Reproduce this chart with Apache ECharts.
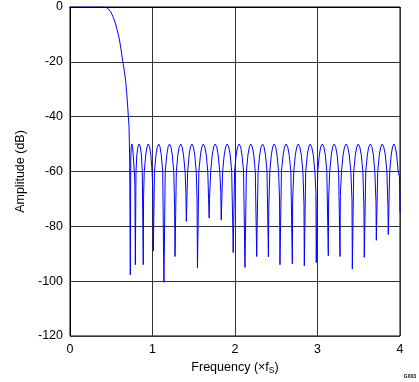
<!DOCTYPE html>
<html>
<head>
<meta charset="utf-8">
<script src="https://cdn.jsdelivr.net/npm/echarts@6/dist/echarts.min.js"></script>
<style>
html,body{margin:0;padding:0;background:#fff;}
#chart{width:419px;height:382px;}
</style>
</head>
<body>
<div id="chart"></div>
<script>
// x ticks (frequency, x fS) and y ticks (dB)
const xTickLabels = [0, 1, 2, 3, 4];
const yTickLabels = [0, -20, -40, -60, -80, -100, -120];

// Passband and roll-off: [frequency, amplitude dB]
const passband = [
  [0, 0], [0.1, 0], [0.2, 0], [0.3, 0], [0.4, 0], [0.424, 0], [0.45, -0.3],
  [0.465, -0.7], [0.493, -1.7], [0.525, -3.8], [0.553, -6.2], [0.574, -8.7],
  [0.598, -11.7], [0.618, -15.4], [0.638, -19.6], [0.658, -23.3], [0.675, -27],
  [0.687, -31.2], [0.699, -36.1], [0.707, -39.8], [0.715, -43.4], [0.72, -50],
  [0.724, -57]
];

// Stopband ripples with nulls: [frequency, amplitude dB]
const stopband = [
  [0.731, -97.7],
  [0.736, -56], [0.742, -51], [0.750, -50], [0.758, -51], [0.766, -54], [0.775, -58], [0.783, -62],
  [0.787, -66], [0.792, -94],
  [0.800, -60], [0.810, -54], [0.823, -51], [0.838, -50], [0.853, -51], [0.865, -54], [0.876, -60],
  [0.888, -94], [0.892, -68.8],
  [0.900, -60], [0.918, -54], [0.933, -51], [0.949, -50], [0.965, -51], [0.980, -54], [0.995, -60],
  [1.005, -67], [1.010, -89],
  [1.024, -60], [1.042, -54], [1.058, -51], [1.075, -50], [1.091, -51], [1.107, -54], [1.124, -60],
  [1.133, -86.7], [1.139, -100.4],
  [1.154, -60], [1.173, -54], [1.189, -51], [1.206, -50], [1.223, -51], [1.240, -54], [1.258, -60],
  [1.268, -73], [1.273, -91],
  [1.289, -60], [1.307, -54], [1.324, -51], [1.342, -50], [1.359, -51], [1.376, -54], [1.395, -60],
  [1.405, -68], [1.410, -78.2],
  [1.426, -60], [1.444, -54], [1.460, -51], [1.478, -50], [1.495, -51], [1.512, -54], [1.530, -60],
  [1.540, -70], [1.545, -95.2],
  [1.562, -60], [1.581, -54], [1.598, -51], [1.616, -50], [1.634, -51], [1.652, -54], [1.670, -60],
  [1.687, -77], [1.691, -70.2],
  [1.705, -60], [1.724, -54], [1.741, -51], [1.760, -50], [1.779, -51], [1.796, -54], [1.815, -60],
  [1.828, -67.7], [1.833, -77.6],
  [1.850, -60], [1.869, -54], [1.887, -51], [1.905, -50], [1.923, -51], [1.942, -54], [1.960, -60],
  [1.973, -80], [1.978, -89.6],
  [1.995, -60], [2.014, -54], [2.031, -51], [2.050, -50], [2.068, -51], [2.085, -54], [2.104, -60],
  [2.116, -86], [2.121, -95],
  [2.138, -60], [2.157, -54], [2.174, -51], [2.192, -50], [2.210, -51], [2.228, -54], [2.246, -60],
  [2.263, -91], [2.267, -82.4],
  [2.280, -60], [2.299, -54], [2.316, -51], [2.334, -50], [2.352, -51], [2.370, -54], [2.388, -60],
  [2.405, -91.2], [2.409, -73.5],
  [2.422, -60], [2.440, -54], [2.457, -51], [2.475, -50], [2.493, -51], [2.510, -54], [2.528, -60],
  [2.540, -70], [2.545, -94],
  [2.563, -60], [2.583, -54], [2.601, -51], [2.620, -50], [2.639, -51], [2.657, -54], [2.677, -60],
  [2.695, -93.7], [2.699, -70.5],
  [2.712, -60], [2.731, -54], [2.749, -51], [2.767, -50], [2.785, -51], [2.804, -54], [2.823, -60],
  [2.836, -72], [2.840, -94.4],
  [2.857, -60], [2.876, -54], [2.894, -51], [2.912, -50], [2.930, -51], [2.949, -54], [2.968, -60],
  [2.981, -67.7], [2.985, -93.2],
  [3.003, -60], [3.022, -54], [3.039, -51], [3.058, -50], [3.077, -51], [3.095, -54], [3.113, -60],
  [3.131, -90.7], [3.135, -70],
  [3.148, -60], [3.167, -54], [3.184, -51], [3.202, -50], [3.220, -51], [3.238, -54], [3.256, -60],
  [3.273, -91], [3.277, -68.7],
  [3.291, -60], [3.310, -54], [3.328, -51], [3.347, -50], [3.366, -51], [3.385, -54], [3.404, -60],
  [3.418, -70.5], [3.422, -95.6],
  [3.439, -60], [3.458, -54], [3.476, -51], [3.494, -50], [3.512, -51], [3.531, -54], [3.550, -60],
  [3.563, -73.3], [3.567, -91.3],
  [3.585, -60], [3.604, -54], [3.621, -51], [3.640, -50], [3.659, -51], [3.677, -54], [3.695, -60],
  [3.709, -71.3], [3.713, -85.1],
  [3.730, -60], [3.749, -54], [3.767, -51], [3.785, -50], [3.803, -51], [3.822, -54], [3.841, -60],
  [3.854, -73], [3.858, -83],
  [3.875, -60], [3.893, -54], [3.910, -51], [3.926, -50], [3.943, -51], [3.960, -54], [3.978, -60],
  [3.994, -62], [4.0, -75]
];

const FONT = '"Liberation Sans", Arial, sans-serif';
const chart = echarts.init(document.getElementById('chart'), null, { renderer: 'canvas' });
const xStep = xTickLabels[1] - xTickLabels[0];
const yStep = yTickLabels[0] - yTickLabels[1];

chart.setOption({
  animation: false,
  backgroundColor: '#fff',
  grid: {
    left: 70, top: 7, width: 330, height: 329,
    show: true, borderColor: '#000', borderWidth: 1, backgroundColor: 'transparent'
  },
  xAxis: [{
    type: 'value',
    min: xTickLabels[0], max: xTickLabels[xTickLabels.length - 1], interval: xStep,
    position: 'bottom',
    axisLine: { show: true, lineStyle: { color: '#000', width: 1 } },
    axisTick: { show: false },
    splitLine: { show: true, lineStyle: { color: '#333', width: 1 } },
    axisLabel: { color: '#000', fontFamily: FONT, fontSize: 12.5, margin: 7 },
    name: 'Frequency (×f{sub|S})',
    nameLocation: 'middle',
    nameGap: 17,
    nameTextStyle: {
      color: '#000', fontFamily: FONT, fontSize: 12.5,
      rich: { sub: { fontFamily: FONT, fontSize: 8.5, color: '#000', padding: [6, 0, 0, 0] } }
    }
  }, {
    type: 'value',
    min: xTickLabels[0], max: xTickLabels[xTickLabels.length - 1], interval: xStep,
    position: 'top',
    z: 10,
    axisLine: { show: true, onZero: false, lineStyle: { color: '#000', width: 1 } },
    axisTick: { show: false },
    axisLabel: { show: false },
    splitLine: { show: false }
  }],
  yAxis: [{
    type: 'value',
    min: yTickLabels[yTickLabels.length - 1], max: yTickLabels[0], interval: yStep,
    axisLine: { show: true, onZero: false, lineStyle: { color: '#000', width: 1 } },
    axisTick: { show: false },
    splitLine: { show: true, lineStyle: { color: '#333', width: 1 } },
    axisLabel: { color: '#000', fontFamily: FONT, fontSize: 12.5, margin: 7 },
    name: 'Amplitude (dB)',
    nameLocation: 'middle',
    nameGap: 39,
    nameTextStyle: { color: '#000', fontFamily: FONT, fontSize: 12.5 }
  }],
  graphic: [{
    type: 'text',
    right: 3, bottom: 3,
    style: { text: 'G003', fill: '#000', font: 'bold 5px "Liberation Sans", Arial, sans-serif' }
  }],
  series: [{
    type: 'line',
    xAxisIndex: 0,
    data: passband.concat(stopband),
    showSymbol: false,
    symbol: 'none',
    clip: true,
    lineStyle: { color: '#0000ff', width: 1 },
    itemStyle: { color: '#0000ff' }
  }]
});
</script>
</body>
</html>
